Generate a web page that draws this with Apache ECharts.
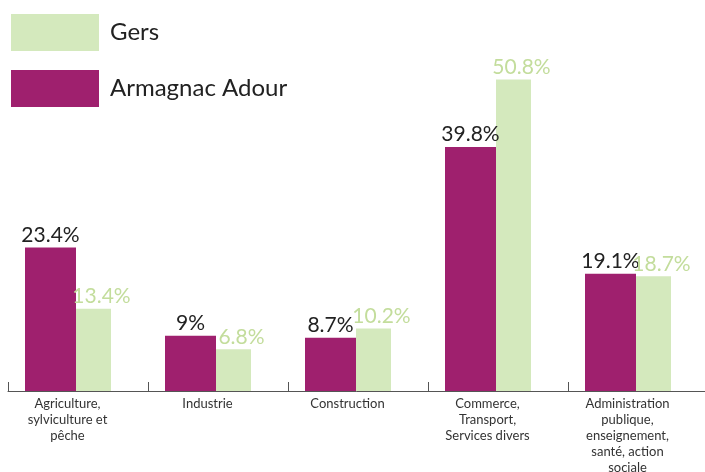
<!DOCTYPE html>
<html>
<head>
<meta charset="utf-8">
<title>Armagnac Adour / Gers</title>
<script src="https://cdn.jsdelivr.net/npm/echarts@6/dist/echarts.min.js"></script>
<style>
  html, body { margin: 0; padding: 0; background: #fff; }
  #chart { width: 705px; height: 472px; }
</style>
</head>
<body>
<div id="chart"></div>
<script>
// secteurs d'activité
const categories = [
  'Agriculture,\nsylviculture et\npêche',
  'Industrie',
  'Construction',
  'Commerce,\nTransport,\nServices divers',
  'Administration\npublique,\nenseignement,\nsanté, action\nsociale'
];
const armagnacAdour = [23.4, 9, 8.7, 39.8, 19.1];
const gers = [13.4, 6.8, 10.2, 50.8, 18.7];

const PURPLE = '#9f206e';
const GREEN = '#d4e9bd';
const GREEN_TEXT = '#c3dd9c';
const FONT = 'Lato';

const chart = echarts.init(document.getElementById('chart'));

chart.setOption({
  animation: false,
  textStyle: { fontFamily: FONT },
  legend: {
    data: ['Gers', 'Armagnac Adour'],
    orient: 'vertical',
    left: 11,
    top: 14,
    padding: 0,
    itemWidth: 88,
    itemHeight: 37,
    itemGap: 19,
    icon: 'rect',
    selectedMode: false,
    textStyle: { fontFamily: FONT, fontSize: 24, color: '#222', padding: [0, 0, 0, 6] }
  },
  grid: { left: 8, right: -3, top: 23, bottom: 81, outerBoundsMode: 'none' },
  xAxis: {
    type: 'category',
    data: categories,
    axisLine: { lineStyle: { color: '#555', width: 1 } },
    axisTick: { show: true, inside: true, length: 9, lineStyle: { color: '#555' } },
    axisLabel: {
      interval: 0,
      margin: 5,
      // right padding nudges the labels under the bar pair
      padding: [0, 21, 0, 0],
      fontFamily: FONT,
      fontSize: 13,
      lineHeight: 16,
      color: '#333'
    }
  },
  yAxis: { type: 'value', min: 0, max: 60, show: false },
  series: [
    {
      name: 'Armagnac Adour',
      type: 'bar',
      data: armagnacAdour,
      barWidth: 51,
      barGap: '0%',
      itemStyle: { color: PURPLE },
      label: {
        show: true,
        position: 'top',
        distance: 2,
        formatter: '{c}%',
        fontFamily: FONT,
        fontSize: 21,
        color: '#222'
      }
    },
    {
      name: 'Gers',
      type: 'bar',
      data: gers,
      barWidth: 35,
      barGap: '0%',
      itemStyle: { color: GREEN },
      label: {
        show: true,
        position: 'top',
        distance: 2,
        offset: [8, 0],
        formatter: '{c}%',
        fontFamily: FONT,
        fontSize: 21,
        color: GREEN_TEXT
      }
    },
    {
      // empty spacer so the pair sits left of the category centre
      name: 'spacer',
      type: 'bar',
      data: categories.map(() => '-'),
      barWidth: 20,
      barGap: '0%',
      silent: true
    }
  ]
});
</script>
</body>
</html>
